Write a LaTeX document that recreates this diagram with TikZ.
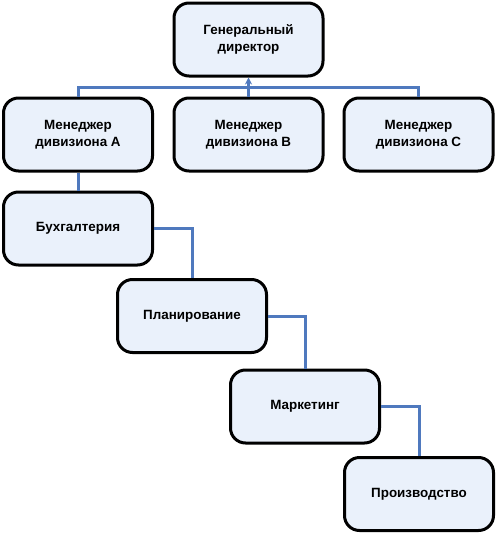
\documentclass[tikz,border=0pt]{standalone}
\usepackage{fontspec}
\setmainfont{Liberation Sans}
\usetikzlibrary{arrows.meta}
\definecolor{boxfill}{RGB}{234,241,251}
\definecolor{linkblue}{RGB}{79,121,190}
\tikzset{
  orgbox/.style={draw=black, line width=3pt, fill=boxfill, rounded corners=15pt,
    minimum width=149pt, minimum height=73pt, align=center, inner sep=0pt,
    font=\fontsize{13.4pt}{16.5pt}\selectfont\bfseries},
  link/.style={draw=linkblue, line width=3pt}
}
\begin{document}
\begin{tikzpicture}[x=1pt,y=-1pt]
\useasboundingbox (0,0) rectangle (497,533);
\node[orgbox] (gd) at (248.5,39.5) {Генеральный\\директор};
\node[orgbox] (a) at (78,134.5) {Менеджер\\дивизиона A};
\node[orgbox] (b) at (248.5,134.5) {Менеджер\\дивизиона B};
\node[orgbox] (c) at (418.5,134.5) {Менеджер\\дивизиона C};
\node[orgbox] (bu) at (78,228.5) {Бухгалтерия};
\node[orgbox] (pl) at (192,316) {Планирование};
\node[orgbox] (mk) at (305,406.5) {Маркетинг};
\node[orgbox] (pr) at (419,494) {Производство};
\coordinate (bus) at (248.5,87);
\draw[link] (a.north) |- (bus) -| (c.north);
\draw[link, -{Stealth[length=7pt,width=7pt]}] (b.north) -- (gd.south);
\draw[link] (a.south) -- (bu.north);
\draw[link] (bu.east) -| (pl.north);
\draw[link] (pl.east) -| (mk.north);
\draw[link] (mk.east) -| (pr.north);
\end{tikzpicture}
\end{document}
